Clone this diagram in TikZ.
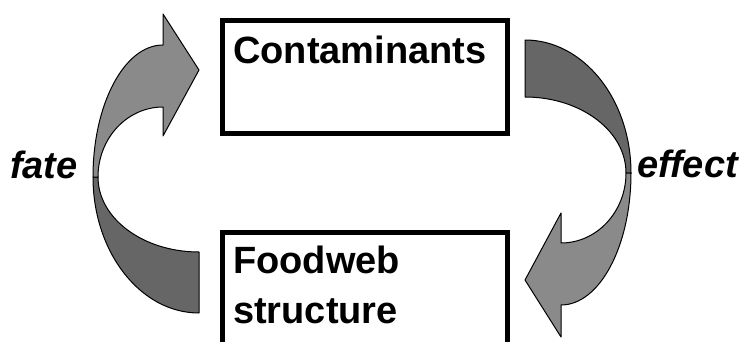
\documentclass[tikz,border=0pt]{standalone}
\usepackage{fontspec}
\setmainfont{Liberation Sans}
\usepackage{tikz}
\definecolor{bandlightgray}{RGB}{138,138,138}
\definecolor{banddarkgray}{RGB}{102,102,102}
\tikzstyle{boxframe} = [draw=black, fill=white, line width=5pt,
    rectangle, inner sep=0pt, anchor=north west]
\tikzstyle{boxlabel} = [inner sep=0pt, anchor=base west, align=left,
    font=\fontsize{38}{50}\selectfont\bfseries]
\tikzstyle{cyclelabel} = [inner sep=0pt, anchor=base west,
    font=\fontsize{38}{46}\selectfont\bfseries\itshape]
\tikzstyle{banddark} = [draw=black, fill=banddarkgray, line width=1pt, line join=round]
\tikzstyle{bandlight} = [draw=black, fill=bandlightgray, line width=1pt, line join=round]

\begin{document}
\begin{tikzpicture}[x=1pt, y=1pt]
                \path[use as bounding box, clip] (0,0) rectangle (750,341);
                % boxes
                \node [boxframe, minimum width=285pt, minimum height=112pt] (cont) at (219.5,322.5) {};
                \node [boxframe, minimum width=285pt, minimum height=150pt] (food) at (219.5,111.5) {};
                \node [boxlabel] (conttext) at ([shift={(13.5pt,-45.5pt)}]cont.north west) {Contaminants};
                \node [boxlabel] (foodtext) at ([shift={(13.5pt,-93.5pt)}]food.north west) {Foodweb\\structure};
                % left arrow (fate)
                \draw [banddark] (93,164) arc[start angle=180, end angle=270, x radius=106pt, y radius=136pt]
                    -- (199,89) arc[start angle=270, end angle=180, x radius=101pt, y radius=75pt] -- cycle;
                \draw [bandlight] (93,164) arc[start angle=180, end angle=90, x radius=70pt, y radius=132pt]
                    -- (163,327) -- (199,271) -- (163,205) -- (163,234)
                    arc[start angle=90, end angle=180, x radius=65pt, y radius=70pt] -- cycle;
                % right arrow (effect)
                \draw [banddark] (525,301) arc[start angle=90, end angle=0, x radius=106pt, y radius=133pt]
                    -- (626,168) arc[start angle=0, end angle=90, x radius=101pt, y radius=76pt] -- cycle;
                \draw [bandlight] (631,168) arc[start angle=0, end angle=-90, x radius=70pt, y radius=132pt]
                    -- (561,4) -- (525,61) -- (561,128) -- (561,98)
                    arc[start angle=-90, end angle=0, x radius=65pt, y radius=70pt] -- cycle;
                \node [cyclelabel] (fate) at (10,163) {fate};
                \node [cyclelabel] (effect) at (637,164) {effect};
            \end{tikzpicture}
\end{document}
